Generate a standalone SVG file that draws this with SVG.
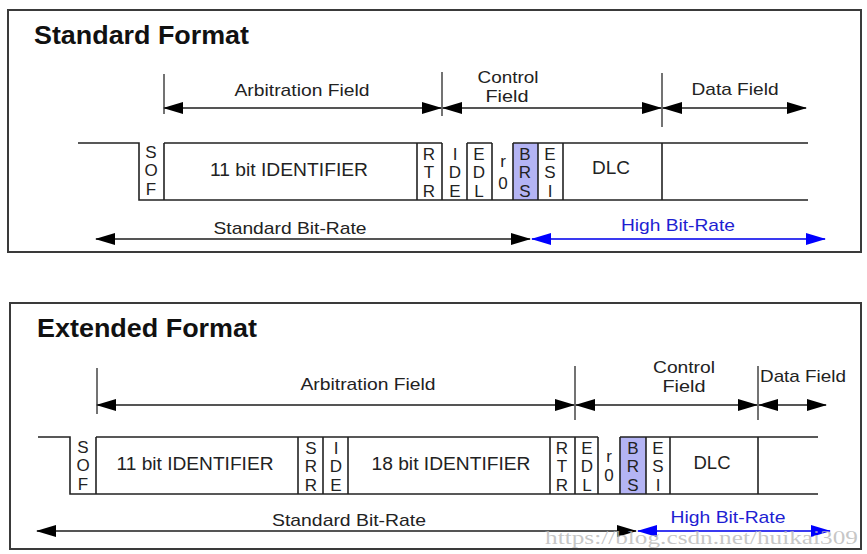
<svg xmlns="http://www.w3.org/2000/svg" width="867" height="554" viewBox="0 0 867 554">
<style>
  .frame { fill: none; stroke: #3a3a3a; stroke-width: 2; }
  .ln { stroke: #222; stroke-width: 1.6; fill: none; }
  .tick { stroke: #444; stroke-width: 1.5; }
  .title { font-family: "Liberation Sans", Arial, sans-serif; font-weight: bold; font-size: 25px; fill: #111; }
  .lbl { font-family: "Liberation Sans", Arial, sans-serif; font-size: 17px; fill: #222; text-anchor: middle; }
  .cell { font-family: "Liberation Sans", Arial, sans-serif; font-size: 18px; fill: #222; text-anchor: middle; }
  .v { font-family: "Liberation Sans", Arial, sans-serif; font-size: 17px; fill: #222; text-anchor: middle; }
  .blue { fill: #1e1ed2; }
  .arrK { stroke: #555; stroke-width: 2; fill: none; marker-start: url(#ak); marker-end: url(#ak); }
  .arrB { stroke: #3a3af0; stroke-width: 2; fill: none; marker-start: url(#ab); marker-end: url(#ab); }
  .brs { fill: #b4b4f4; stroke: none; }
  .wm { font-family: "Liberation Serif", "DejaVu Serif", serif; font-size: 18px; fill: #b8b8b8; fill-opacity: 0.8; }
</style>
<defs>
  <marker id="ak" markerUnits="userSpaceOnUse" markerWidth="20" markerHeight="12" refX="19" refY="6" orient="auto-start-reverse">
    <path d="M0,0 L20,6 L0,12 z" fill="#000"/>
  </marker>
  <marker id="ab" markerUnits="userSpaceOnUse" markerWidth="20" markerHeight="12" refX="19" refY="6" orient="auto-start-reverse">
    <path d="M0,0 L20,6 L0,12 z" fill="#0000ff"/>
  </marker>
</defs>
<rect width="867" height="554" fill="#fff"/>

<!-- ===== Standard Format ===== -->
<g id="standard">
  <rect class="frame" x="8" y="10" width="853" height="242"/>
  <text class="title" x="34" y="44" textLength="215" lengthAdjust="spacingAndGlyphs">Standard Format</text>

  <g id="std-ticks">
    <line class="tick" x1="164" y1="74" x2="164" y2="114"/>
    <line class="tick" x1="442" y1="72" x2="442" y2="116"/>
    <line class="tick" x1="662" y1="73" x2="662" y2="127"/>
  </g>
  <text class="lbl" x="302" y="96" textLength="135" lengthAdjust="spacingAndGlyphs">Arbitration Field</text>
  <text class="lbl" x="508" y="83" textLength="61" lengthAdjust="spacingAndGlyphs">Control</text>
  <text class="lbl" x="507" y="102" textLength="43" lengthAdjust="spacingAndGlyphs">Field</text>
  <text class="lbl" x="735" y="95" textLength="87" lengthAdjust="spacingAndGlyphs">Data Field</text>

  <g id="std-wave">
    <rect class="brs" x="513" y="143" width="25" height="57"/>
    <path class="ln" d="M78,143 H139 V200 H808 M164,143 H442 M467,143 H492 M513,143 H808"/>
    <path class="ln" d="M164,143 V200 M417,143 V200 M442,143 V200 M467,143 V200 M492,143 V200 M513,143 V200 M538,143 V200 M563,143 V200 M662,143 V200"/>
  </g>
  <g id="std-sof"><text class="v" x="151" y="158">S</text><text class="v" x="151" y="176">O</text><text class="v" x="151" y="195">F</text></g>
  <g id="std-id11"><text class="cell" x="289" y="176" textLength="158" lengthAdjust="spacingAndGlyphs">11 bit IDENTIFIER</text></g>
  <g id="std-rtr"><text class="v" x="429" y="160">R</text><text class="v" x="429" y="178">T</text><text class="v" x="429" y="197">R</text></g>
  <g id="std-ide"><text class="v" x="455" y="160">I</text><text class="v" x="455" y="178">D</text><text class="v" x="455" y="197">E</text></g>
  <g id="std-edl"><text class="v" x="479" y="160">E</text><text class="v" x="479" y="178">D</text><text class="v" x="479" y="197">L</text></g>
  <g id="std-r0"><text class="v" x="503" y="167">r</text><text class="v" x="503" y="189">0</text></g>
  <g id="std-brs"><text class="v" x="525" y="160">B</text><text class="v" x="525" y="178">R</text><text class="v" x="525" y="197">S</text></g>
  <g id="std-esi"><text class="v" x="550" y="160">E</text><text class="v" x="550" y="178">S</text><text class="v" x="550" y="197">I</text></g>
  <g id="std-dlc"><text class="cell" x="611" y="174" textLength="38" lengthAdjust="spacingAndGlyphs">DLC</text></g>

  <text class="lbl" x="290" y="234" textLength="153" lengthAdjust="spacingAndGlyphs">Standard Bit-Rate</text>
  <text class="lbl blue" x="678" y="231" textLength="114" lengthAdjust="spacingAndGlyphs">High Bit-Rate</text>
</g>

<!-- ===== Extended Format ===== -->
<g id="extended">
  <rect class="frame" x="10" y="303" width="851" height="246"/>
  <text class="title" x="37" y="337" textLength="220" lengthAdjust="spacingAndGlyphs">Extended Format</text>

  <g id="ext-ticks">
    <line class="tick" x1="97" y1="368" x2="97" y2="414"/>
    <line class="tick" x1="575" y1="366" x2="575" y2="420"/>
    <line class="tick" x1="758" y1="366" x2="758" y2="420"/>
  </g>
  <text class="lbl" x="368" y="390" textLength="135" lengthAdjust="spacingAndGlyphs">Arbitration Field</text>
  <text class="lbl" x="684" y="373" textLength="62" lengthAdjust="spacingAndGlyphs">Control</text>
  <text class="lbl" x="684" y="392" textLength="43" lengthAdjust="spacingAndGlyphs">Field</text>
  <text class="lbl" x="803" y="382" textLength="86" lengthAdjust="spacingAndGlyphs">Data Field</text>

  <g id="ext-wave">
    <rect class="brs" x="620" y="437" width="26" height="57"/>
    <path class="ln" d="M38,437 H70 V494 H818 M96,437 H598 M620,437 H818"/>
    <path class="ln" d="M96,437 V494 M298,437 V494 M323,437 V494 M348,437 V494 M550,437 V494 M575,437 V494 M598,437 V494 M620,437 V494 M646,437 V494 M670,437 V494 M758,437 V494"/>
  </g>
  <g id="ext-sof"><text class="v" x="83" y="453">S</text><text class="v" x="83" y="471">O</text><text class="v" x="83" y="490">F</text></g>
  <g id="ext-id11"><text class="cell" x="195" y="470" textLength="157" lengthAdjust="spacingAndGlyphs">11 bit IDENTIFIER</text></g>
  <g id="ext-srr"><text class="v" x="311" y="454">S</text><text class="v" x="311" y="472">R</text><text class="v" x="311" y="491">R</text></g>
  <g id="ext-ide"><text class="v" x="336" y="454">I</text><text class="v" x="336" y="472">D</text><text class="v" x="336" y="491">E</text></g>
  <g id="ext-id18"><text class="cell" x="451" y="470" textLength="159" lengthAdjust="spacingAndGlyphs">18 bit IDENTIFIER</text></g>
  <g id="ext-rtr"><text class="v" x="562" y="454">R</text><text class="v" x="562" y="472">T</text><text class="v" x="562" y="491">R</text></g>
  <g id="ext-edl"><text class="v" x="587" y="454">E</text><text class="v" x="587" y="472">D</text><text class="v" x="587" y="491">L</text></g>
  <g id="ext-r0"><text class="v" x="609" y="462">r</text><text class="v" x="609" y="481">0</text></g>
  <g id="ext-brs"><text class="v" x="633" y="454">B</text><text class="v" x="633" y="472">R</text><text class="v" x="633" y="491">S</text></g>
  <g id="ext-esi"><text class="v" x="658" y="454">E</text><text class="v" x="658" y="472">S</text><text class="v" x="658" y="491">I</text></g>
  <g id="ext-dlc"><text class="cell" x="712" y="469" textLength="37" lengthAdjust="spacingAndGlyphs">DLC</text></g>

  <text class="lbl" x="349" y="526" textLength="154" lengthAdjust="spacingAndGlyphs">Standard Bit-Rate</text>
  <text class="lbl blue" x="728" y="523" textLength="115" lengthAdjust="spacingAndGlyphs">High Bit-Rate</text>
</g>

<!-- ===== Connectors ===== -->
<g id="connectors">
  <line class="arrK" x1="164" y1="108" x2="441" y2="108"/>
  <line class="arrK" x1="443" y1="108" x2="661" y2="108"/>
  <line class="arrK" x1="663" y1="108" x2="806" y2="108"/>
  <line class="arrK" x1="96" y1="239" x2="530" y2="239"/>
  <line class="arrB" x1="532" y1="239" x2="825" y2="239"/>

  <line class="arrK" x1="97" y1="405" x2="574" y2="405"/>
  <line class="arrK" x1="576" y1="405" x2="757" y2="405"/>
  <line class="arrK" x1="759" y1="405" x2="826" y2="405"/>
  <line class="arrK" x1="37" y1="531" x2="636" y2="531"/>
  <line class="arrB" x1="638" y1="531" x2="830" y2="531"/>
</g>

<text class="wm" x="545" y="544" textLength="313" lengthAdjust="spacingAndGlyphs">https://blog.csdn.net/huikai309</text>
</svg>
